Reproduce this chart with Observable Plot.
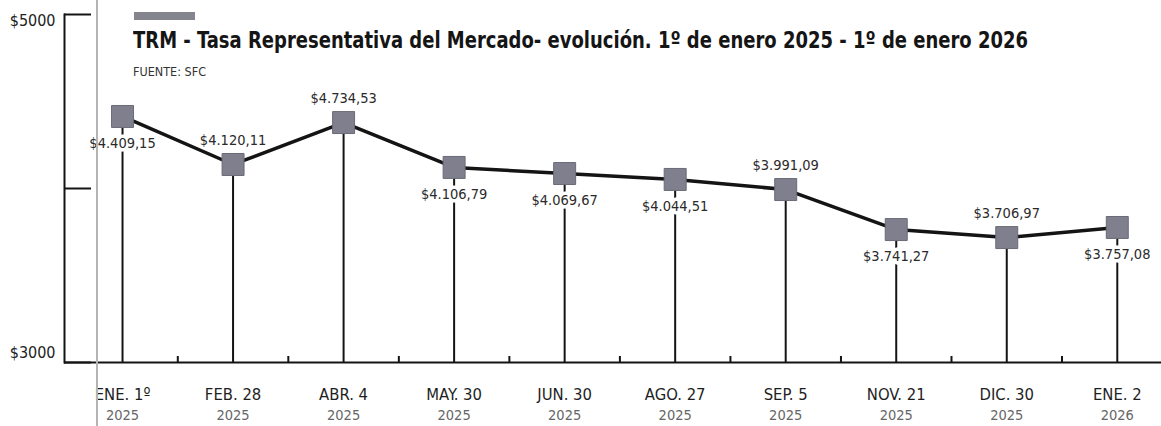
<!DOCTYPE html>
<html><head><meta charset="utf-8">
<script src="https://cdn.jsdelivr.net/npm/d3@7"></script>
<script src="https://cdn.jsdelivr.net/npm/@observablehq/plot@0.6"></script>
<style>
body{margin:0;background:#fff;}
#wrap{position:relative;width:1161px;height:426px;overflow:hidden;font-family:"DejaVu Sans Condensed","DejaVu Sans",sans-serif;}
#chart{position:absolute;left:0;top:0;}
#bar{position:absolute;left:134px;top:12px;width:61px;height:8px;background:#85858f;}
#title{position:absolute;left:133px;top:29px;font-weight:bold;font-size:23px;line-height:23px;color:#151515;white-space:nowrap;transform-origin:left top;}
#src{position:absolute;left:133px;top:65px;font-size:12.5px;line-height:13px;color:#333;white-space:nowrap;}
#fold{position:absolute;left:96px;top:0;width:2px;height:426px;background:#b4b4b4;}
</style></head>
<body>
<div id="wrap">
  <div id="chart"></div>
  <div id="bar"></div>
  <div id="title"><span id="titleText">TRM - Tasa Representativa del Mercado- evolución. 1º de enero 2025 - 1º de enero 2026</span></div>
  <div id="src">FUENTE: SFC</div>
  <div id="fold"></div>
</div>
<script>
// Fechas (categorías del eje X)
const fechas = ["ENE. 1º", "FEB. 28", "ABR. 4", "MAY. 30", "JUN. 30", "AGO. 27", "SEP. 5", "NOV. 21", "DIC. 30", "ENE. 2"];
const anios = ["2025", "2025", "2025", "2025", "2025", "2025", "2025", "2025", "2025", "2026"];
// Valores rotulados de la TRM (pesos)
const valores = [4409.15, 4120.11, 4734.53, 4106.79, 4069.67, 4044.51, 3991.09, 3741.27, 3706.97, 3757.08];
// Nivel al que cada punto aparece dibujado en la gráfica (leído contra el eje $3000–$5000)
const nivel = [4414, 4138, 4379, 4121, 4086, 4052, 3994, 3764, 3718, 3776];
// Rótulos del eje Y
const ticksY = [3000, 4000, 5000];
// Puntos con el rótulo sobre el marcador
const rotuloArriba = ["FEB. 28", "ABR. 4", "SEP. 5", "DIC. 30"];

const fmt = v => {
  const [ent, dec] = v.toFixed(2).split(".");
  return "$" + ent.replace(/\B(?=(\d{3})+$)/g, ".") + "," + dec;
};

const data = fechas.map((f, i) => ({i, fecha: f, anio: anios[i], valor: valores[i], nivel: nivel[i], arriba: rotuloArriba.includes(f)}));
const mids = d3.range(fechas.length - 1).map(i => i + 0.5);
const ink = "#141414";

const chart = Plot.plot({
  width: 1161,
  height: 426,
  marginLeft: 64,
  marginRight: 0,
  marginTop: 14,
  marginBottom: 64,
  style: {fontFamily: '"DejaVu Sans Condensed","DejaVu Sans",sans-serif', background: "transparent"},
  x: {type: "linear", domain: [-0.525, 9.4]},
  y: {domain: [3000, 5000]},
  marks: [
    Plot.frame({anchor: "left", stroke: ink, strokeWidth: 2}),
    Plot.ruleY([3000], {stroke: ink, strokeWidth: 2}),
    Plot.tickY(ticksY, {y: d => d, insetRight: 1097 - 27, stroke: ink, strokeWidth: 2}),
    Plot.axisY([5000], {tickSize: 0, tickPadding: 9, dy: 6, tickFormat: d => "$" + d, fontSize: 16, fill: "#222", label: null}),
    Plot.axisY([3000], {tickSize: 0, tickPadding: 9, dy: -10, tickFormat: d => "$" + d, fontSize: 16, fill: "#222", label: null}),
    Plot.axisX(mids, {tickSize: 6, dy: -6, tickFormat: () => "", strokeWidth: 2, stroke: ink, label: null}),
    Plot.axisX(d3.range(fechas.length), {tickSize: 0, tickPadding: 26, tickFormat: i => fechas[i], fontSize: 16.5, fill: "#1e1e1e", label: null}),
    Plot.axisX(d3.range(fechas.length), {tickSize: 0, tickPadding: 47, tickFormat: i => anios[i], fontSize: 14.5, fill: "#666", label: null}),
    Plot.ruleX(data, {x: "i", y1: 3000, y2: "nivel", stroke: ink, strokeWidth: 2}),
    Plot.line(data, {x: "i", y: "nivel", stroke: ink, strokeWidth: 3.5}),
    Plot.text(data.filter(d => !d.arriba), {x: "i", y: "nivel", text: d => fmt(d.valor), dy: 27, fontSize: 14.5, fill: "#2a2a2a", stroke: "white", strokeWidth: 7, paintOrder: "stroke"}),
    Plot.text(data.filter(d => d.arriba), {x: "i", y: "nivel", text: d => fmt(d.valor), dy: -24, fontSize: 14.5, fill: "#2a2a2a", stroke: "white", strokeWidth: 4, paintOrder: "stroke"}),
    Plot.dot(data, {x: "i", y: "nivel", symbol: "square", r: 12.4, fill: "#7f7f8e", stroke: "#6a6a78", strokeWidth: 1})
  ]
});
document.getElementById("chart").appendChild(chart);

const tt = document.getElementById("titleText");
const w = tt.getBoundingClientRect().width;
document.getElementById("title").style.transform = `scaleX(${895 / w})`;
</script>
</body></html>
